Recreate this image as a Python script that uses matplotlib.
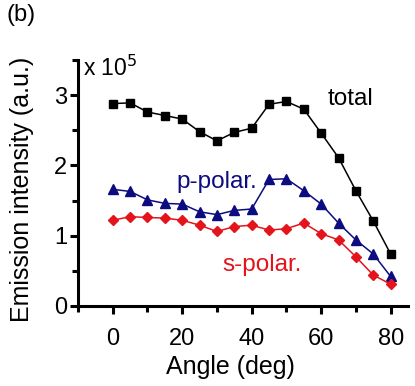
import numpy as np
import matplotlib
matplotlib.use("Agg")
import matplotlib.pyplot as plt
from matplotlib.ticker import MultipleLocator

plt.rcParams['font.family'] = ['Liberation Sans', 'DejaVu Sans']

# angles in degrees, intensities in units of 1e5
angle = [0, 5, 10, 15, 20, 25, 30, 35, 40, 45, 50, 55, 60, 65, 70, 75, 80]
total = [2.88, 2.89, 2.76, 2.71, 2.66, 2.48, 2.35, 2.47, 2.53, 2.87, 2.91,
         2.80, 2.46, 2.11, 1.64, 1.21, 0.74]
p_polar = [1.66, 1.63, 1.51, 1.46, 1.45, 1.34, 1.30, 1.36, 1.38, 1.80, 1.81,
           1.64, 1.45, 1.18, 0.94, 0.74, 0.42]
s_polar = [1.22, 1.27, 1.26, 1.25, 1.22, 1.15, 1.06, 1.13, 1.15, 1.08, 1.10,
           1.18, 1.03, 0.94, 0.70, 0.44, 0.31]

navy = '#0c0c80'
red = '#e4141c'

fig = plt.figure(figsize=(4.15, 3.86), dpi=100)
ax = fig.add_axes([78/415, 80/386, 330/415, 246/386])

ax.plot(angle, total, '-s', color='black', lw=1.1, ms=5.5)
ax.plot(angle, p_polar, '-^', color=navy, lw=1.1, ms=7)
ax.plot(angle, s_polar, '-D', color=red, lw=1.1, ms=5.5)

ax.set_xlim(-10, 85)
ax.set_ylim(0, 3.5)
ax.xaxis.set_major_locator(MultipleLocator(20))
ax.xaxis.set_minor_locator(MultipleLocator(10))
ax.yaxis.set_major_locator(MultipleLocator(1))
ax.yaxis.set_minor_locator(MultipleLocator(0.5))

for side in ('top', 'right'):
    ax.spines[side].set_visible(False)
for side in ('left', 'bottom'):
    ax.spines[side].set_linewidth(2.2)

ax.tick_params(which='major', direction='out', length=6, width=2.2, labelsize=17)
ax.tick_params(axis='x', which='major', pad=10)
ax.tick_params(axis='y', which='major', pad=2)
ax.tick_params(which='minor', direction='out', length=4, width=2.2)

ax.text(62.0, 2.95, 'total', fontsize=17.5, va='center', ha='left')
ax.text(18.4, 1.76, 'p-polar.', fontsize=17.5, va='center', ha='left', color=navy)
ax.text(31.7, 0.59, 's-polar.', fontsize=17.5, va='center', ha='left', color=red)
ax.text(0.015, 0.965, r'x 10$^5$', transform=ax.transAxes, fontsize=16.5,
        va='center', ha='left')

fig.text(7/415, 1 - 15/386, '(b)', fontsize=17, va='center', ha='left')
fig.text(22/415, 1 - 189/386, 'Emission intensity (a.u.)', fontsize=18,
         rotation=90, va='center', ha='center')
fig.text(230/415, 1 - 367/386, 'Angle (deg)', fontsize=18, va='center', ha='center')

fig.savefig('out.png', dpi=100)
